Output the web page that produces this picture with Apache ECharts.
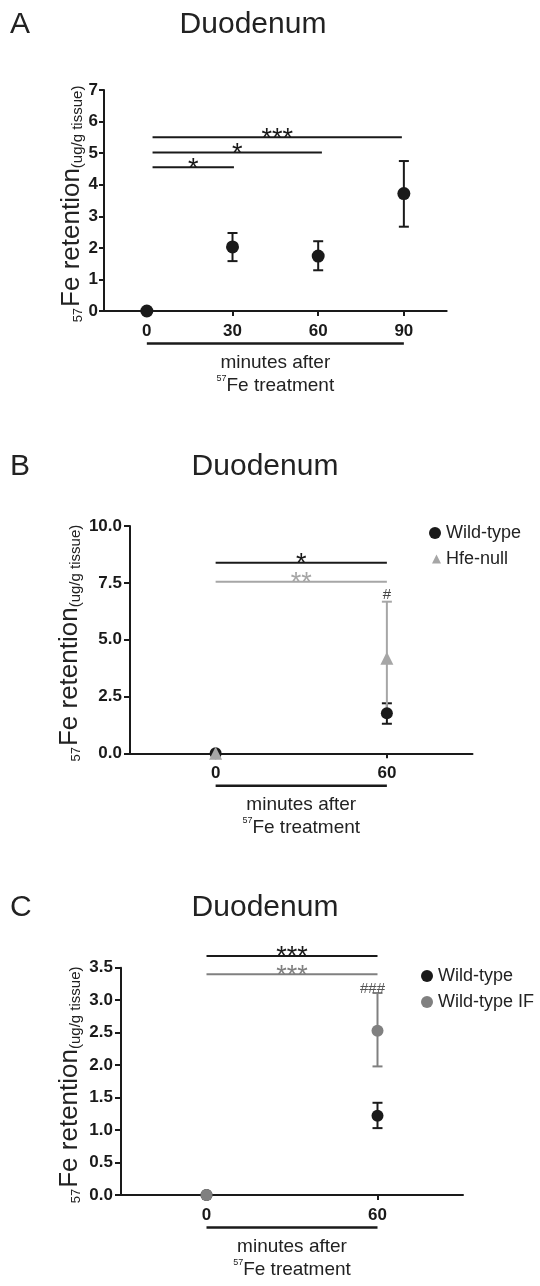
<!DOCTYPE html>
<html>
<head>
<meta charset="utf-8">
<script src="https://cdn.jsdelivr.net/npm/echarts@6/dist/echarts.min.js"></script>
<style>
  html, body { margin: 0; padding: 0; background: #fff; }
  #chart { width: 540px; height: 1286px; }
</style>
</head>
<body>
<div id="chart"></div>
<script>
// ---- Panel A: wild-type time course ----
const timesA = [0, 30, 60, 90];
const meanA = [0, 2.03, 1.74, 3.72];
const lowA = [0, 1.58, 1.29, 2.67];
const highA = [0, 2.47, 2.21, 4.75];
const ticksA = [0, 30, 60, 90];
const sigLinesA = [[2, 30.5, 4.55], [2, 61.3, 5.02], [2, 89.3, 5.5]];
const sigMarksA = ['*', '*', '***'];

// ---- Panel B: wild-type vs Hfe-null ----
const timesB = [0, 60];
const wtMeanB = [0, 1.76];
const wtLowB = [0, 1.30];
const wtHighB = [0, 2.20];
const hfeMeanB = [0, 4.18];
const hfeLowB = [0, 1.69];
const hfeHighB = [0, 6.67];
const ticksB = [0, 60];
const sigLinesB = [[0, 60, 8.38], [0, 60, 7.55]];
const sigMarksB = ['*', '**'];
const hashPosB = [[60, 6.67]];
const hashTextB = ['#'];

// ---- Panel C: wild-type vs wild-type IF ----
const timesC = [0, 60];
const wtMeanC = [0, 1.22];
const wtLowC = [0, 1.03];
const wtHighC = [0, 1.42];
const ifMeanC = [0, 2.53];
const ifLowC = [0, 1.98];
const ifHighC = [0, 3.11];
const ticksC = [0, 60];
const sigLinesC = [[0, 60, 3.68], [0, 60, 3.40]];
const sigMarksC = ['***', '***'];
const hashPosC = [[60, 3.11]];
const hashTextC = ['###'];

const FONT = '"Liberation Sans", Arial, Helvetica, sans-serif';
const BLACK = '#1a1a1a';
const GRAY_B = '#a6a6a6';
const GRAY_C = '#808080';

function points(xs, ys) { return xs.map((x, i) => [x, ys[i]]); }
function bars(xs, lo, hi) {
    return xs.map((x, i) => [x, lo[i], hi[i]]).filter(d => d[2] > d[1]);
}

function errorBars(color) {
    return function(params, api) {
        const x = api.value(0);
        const lo = api.coord([x, api.value(1)]);
        const hi = api.coord([x, api.value(2)]);
        const w = 5;
        const style = { stroke: color, lineWidth: 2 };
        return {
            type: 'group',
            children: [
                { type: 'line', shape: { x1: lo[0], y1: lo[1], x2: hi[0], y2: hi[1] }, style: style },
                { type: 'line', shape: { x1: lo[0] - w, y1: lo[1], x2: lo[0] + w, y2: lo[1] }, style: style },
                { type: 'line', shape: { x1: hi[0] - w, y1: hi[1], x2: hi[0] + w, y2: hi[1] }, style: style }
            ]
        };
    };
}

function sigBars(marks, colors) {
    return function(params, api) {
        const a = api.coord([api.value(0), api.value(2)]);
        const b = api.coord([api.value(1), api.value(2)]);
        const color = colors[params.dataIndex];
        return {
            type: 'group',
            children: [
                { type: 'line', shape: { x1: a[0], y1: a[1], x2: b[0], y2: b[1] },
                  style: { stroke: color, lineWidth: 2 } },
                { type: 'text', x: (a[0] + b[0]) / 2, y: a[1] + 2,
                  style: { text: marks[params.dataIndex], fill: color, fontSize: 27,
                           fontFamily: FONT, align: 'center', verticalAlign: 'middle' } }
            ]
        };
    };
}

function hashMarks(texts, color, dx, dy) {
    return function(params, api) {
        const p = api.coord([api.value(0), api.value(1)]);
        return {
            type: 'text', x: p[0] + dx, y: p[1] + dy,
            style: { text: texts[params.dataIndex], fill: color, fontSize: 15,
                     fontFamily: FONT, align: 'center', verticalAlign: 'bottom' }
        };
    };
}

// line under the x tick labels, spanning the measured time points
function underline(params, api) {
    const a = api.coord([api.value(0), 0]);
    const b = api.coord([api.value(1), 0]);
    return { type: 'line', shape: { x1: a[0], y1: a[1] + 32.5, x2: b[0], y2: b[1] + 32.5 },
             style: { stroke: BLACK, lineWidth: 2.5 } };
}

function xAxisFor(idx, min, max, ticks) {
    return {
        gridIndex: idx, type: 'value', min: min, max: max,
        axisLine: { show: true, onZero: false, lineStyle: { color: BLACK, width: 2 } },
        axisTick: { show: true, customValues: ticks, length: 5, lineStyle: { color: BLACK, width: 2 } },
        axisLabel: { customValues: ticks, fontSize: 17, fontWeight: 'bold', color: BLACK,
                     fontFamily: FONT, margin: 12 },
        splitLine: { show: false },
        name: 'minutes after\n{sup|57}Fe treatment',
        nameLocation: 'middle', nameGap: 40, nameMoveOverlap: false,
        nameTextStyle: {
            fontSize: 19, color: '#222', fontFamily: FONT, lineHeight: 23,
            rich: { sup: { fontSize: 9, fontFamily: FONT, color: '#222', verticalAlign: 'top', lineHeight: 12 } }
        }
    };
}

function yAxisFor(idx, max, interval, decimals, gap, tickLen, labelMargin) {
    return {
        gridIndex: idx, type: 'value', min: 0, max: max, interval: interval,
        axisLine: { show: true, onZero: false, lineStyle: { color: BLACK, width: 2 } },
        axisTick: { show: true, length: tickLen, lineStyle: { color: BLACK, width: 2 } },
        axisLabel: { fontSize: 17, fontWeight: 'bold', color: BLACK, fontFamily: FONT, margin: labelMargin,
                     formatter: v => v.toFixed(decimals) },
        splitLine: { show: false },
        name: '{sup|57}{big|Fe retention}{small|(ug/g tissue)}',
        nameLocation: 'middle', nameRotate: 90, nameGap: gap, nameMoveOverlap: false,
        nameTextStyle: {
            color: '#222', fontFamily: FONT,
            rich: {
                sup: { fontSize: 13, lineHeight: 13, verticalAlign: 'bottom', fontFamily: FONT, color: '#222', padding: [0, 1, 0, 0] },
                big: { fontSize: 26, lineHeight: 26, verticalAlign: 'bottom', fontFamily: FONT, color: '#222' },
                small: { fontSize: 15, lineHeight: 15, verticalAlign: 'bottom', fontFamily: FONT, color: '#222', padding: [0, 7, 0, 0] }
            }
        }
    };
}

function legendItem(name, icon, size, left, top) {
    return {
        data: [{ name: name, icon: icon }], orient: 'vertical', left: left, top: top,
        padding: 0, itemWidth: size, itemHeight: size, selectedMode: false,
        textStyle: { fontSize: 18, color: '#222', fontFamily: FONT }
    };
}

function titleAt(text, x, y, align, size) {
    return { text: text, left: x - 5, top: y - 5, textAlign: align, textVerticalAlign: 'middle',
             textStyle: { fontSize: size, fontWeight: 'normal', color: '#222', fontFamily: FONT } };
}

const chart = echarts.init(document.getElementById('chart'), null, { renderer: 'canvas' });

const option = {
    animation: false,
    backgroundColor: '#fff',
    title: [
        titleAt('A', 10, 25, 'left', 30),
        titleAt('Duodenum', 253, 25, 'center', 30),
        titleAt('B', 10, 467, 'left', 30),
        titleAt('Duodenum', 265, 467, 'center', 30),
        titleAt('C', 10, 908, 'left', 30),
        titleAt('Duodenum', 265, 908, 'center', 30)
    ],
    legend: [
        legendItem('Wild-type', 'circle', 12, 429, 524),
        legendItem('Hfe-null', 'triangle', 9, 432, 550),
        legendItem('Wild-type', 'circle', 12, 421, 967),
        legendItem('Wild-type IF', 'circle', 12, 421, 993)
    ],
    grid: [
        { left: 104, top: 90, width: 342.7, height: 221 },
        { left: 130, top: 526, width: 342.5, height: 227.3 },
        { left: 121, top: 967.7, width: 342, height: 227.3 }
    ],
    xAxis: [
        xAxisFor(0, -15, 105, ticksA),
        xAxisFor(1, -30, 90, ticksB),
        xAxisFor(2, -30, 90, ticksC)
    ],
    yAxis: [
        yAxisFor(0, 7, 1, 0, 19, 5, 6),
        yAxisFor(1, 10, 2.5, 1, 47, 6, 8),
        yAxisFor(2, 3.5, 0.5, 1, 38, 6, 8)
    ],
    series: [
        // Panel A
        { type: 'custom', xAxisIndex: 0, yAxisIndex: 0, clip: false, silent: true,
          encode: { x: [0, 1], y: 2 }, data: sigLinesA,
          renderItem: sigBars(sigMarksA, sigMarksA.map(() => BLACK)) },
        { type: 'custom', xAxisIndex: 0, yAxisIndex: 0, clip: false, silent: true,
          encode: { x: [0, 1] }, data: [[timesA[0], timesA[timesA.length - 1]]], renderItem: underline },
        { type: 'custom', xAxisIndex: 0, yAxisIndex: 0, clip: false, silent: true,
          encode: { x: 0, y: [1, 2] }, data: bars(timesA, lowA, highA), renderItem: errorBars(BLACK) },
        { name: 'Wild-type', type: 'scatter', xAxisIndex: 0, yAxisIndex: 0, clip: false,
          symbol: 'circle', symbolSize: 13, itemStyle: { color: BLACK, opacity: 1 }, data: points(timesA, meanA) },

        // Panel B
        { type: 'custom', xAxisIndex: 1, yAxisIndex: 1, clip: false, silent: true,
          encode: { x: [0, 1], y: 2 }, data: sigLinesB,
          renderItem: sigBars(sigMarksB, [BLACK, GRAY_B]) },
        { type: 'custom', xAxisIndex: 1, yAxisIndex: 1, clip: false, silent: true,
          encode: { x: [0, 1] }, data: [[timesB[0], timesB[timesB.length - 1]]], renderItem: underline },
        { type: 'custom', xAxisIndex: 1, yAxisIndex: 1, clip: false, silent: true,
          encode: { x: 0, y: [1, 2] }, data: bars(timesB, wtLowB, wtHighB), renderItem: errorBars(BLACK) },
        { name: 'Wild-type', type: 'scatter', xAxisIndex: 1, yAxisIndex: 1, clip: false,
          symbol: 'circle', symbolSize: 12, itemStyle: { color: BLACK, opacity: 1 }, data: points(timesB, wtMeanB) },
        { type: 'custom', xAxisIndex: 1, yAxisIndex: 1, clip: false, silent: true,
          encode: { x: 0, y: [1, 2] }, data: bars(timesB, hfeLowB, hfeHighB), renderItem: errorBars(GRAY_B) },
        { name: 'Hfe-null', type: 'scatter', xAxisIndex: 1, yAxisIndex: 1, clip: false,
          symbol: 'triangle', symbolSize: 13, itemStyle: { color: GRAY_B, opacity: 1 }, data: points(timesB, hfeMeanB) },
        { type: 'custom', xAxisIndex: 1, yAxisIndex: 1, clip: false, silent: true,
          encode: { x: 0, y: 1 }, data: hashPosB, renderItem: hashMarks(hashTextB, '#444', 0, 1) },

        // Panel C
        { type: 'custom', xAxisIndex: 2, yAxisIndex: 2, clip: false, silent: true,
          encode: { x: [0, 1], y: 2 }, data: sigLinesC,
          renderItem: sigBars(sigMarksC, [BLACK, GRAY_C]) },
        { type: 'custom', xAxisIndex: 2, yAxisIndex: 2, clip: false, silent: true,
          encode: { x: [0, 1] }, data: [[timesC[0], timesC[timesC.length - 1]]], renderItem: underline },
        { type: 'custom', xAxisIndex: 2, yAxisIndex: 2, clip: false, silent: true,
          encode: { x: 0, y: [1, 2] }, data: bars(timesC, wtLowC, wtHighC), renderItem: errorBars(BLACK) },
        { name: 'Wild-type', type: 'scatter', xAxisIndex: 2, yAxisIndex: 2, clip: false,
          symbol: 'circle', symbolSize: 12, itemStyle: { color: BLACK, opacity: 1 }, data: points(timesC, wtMeanC) },
        { type: 'custom', xAxisIndex: 2, yAxisIndex: 2, clip: false, silent: true,
          encode: { x: 0, y: [1, 2] }, data: bars(timesC, ifLowC, ifHighC), renderItem: errorBars(GRAY_C) },
        { name: 'Wild-type IF', type: 'scatter', xAxisIndex: 2, yAxisIndex: 2, clip: false,
          symbol: 'circle', symbolSize: 12, itemStyle: { color: GRAY_C, opacity: 1 }, data: points(timesC, ifMeanC) },
        { type: 'custom', xAxisIndex: 2, yAxisIndex: 2, clip: false, silent: true,
          encode: { x: 0, y: 1 }, data: hashPosC, renderItem: hashMarks(hashTextC, '#555', -5, 3) }
    ]
};

chart.setOption(option);
</script>
</body>
</html>
